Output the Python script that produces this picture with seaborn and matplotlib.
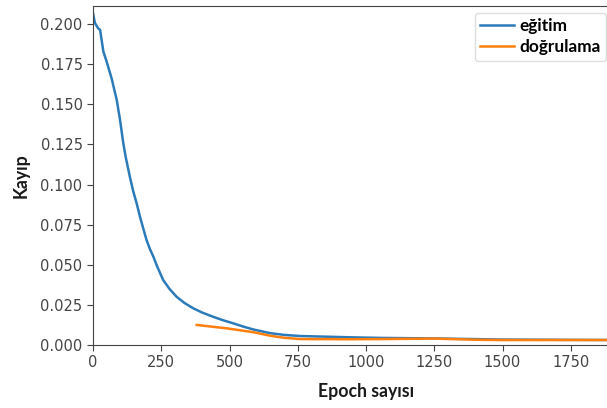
## Training / validation loss curve

import numpy as np
import pandas as pd
import matplotlib
matplotlib.use("Agg")
import matplotlib.pyplot as plt
import seaborn as sns

# values
train_epochs = [0, 7, 19, 26, 38, 50, 68, 87, 99, 111, 120, 135, 147, 160, 172, 184, 196,
                208, 221, 235, 257, 280, 306, 335, 367, 400, 440, 475, 514, 550, 587,
                648, 700, 758, 941, 1061, 1250, 1500, 1750, 1950]
train_loss = [0.2068, 0.2007, 0.1974, 0.1964, 0.1829, 0.1766, 0.1663, 0.1527, 0.1403,
              0.1257, 0.1170, 0.1049, 0.0960, 0.0883, 0.0800, 0.0727, 0.0655, 0.0600,
              0.0551, 0.0490, 0.0405, 0.0350, 0.0301, 0.0262, 0.0229, 0.0202, 0.0176,
              0.0155, 0.0135, 0.0115, 0.0097, 0.0074, 0.0063, 0.0056, 0.0048, 0.0044,
              0.0041, 0.0034, 0.0032, 0.0031]

val_epochs = [380, 489, 587, 648, 700, 758, 941, 1061, 1250, 1400, 1500, 1750, 1950]
val_loss = [0.0125, 0.0104, 0.0080, 0.0058, 0.0045, 0.0037, 0.0036, 0.0037, 0.0040,
            0.0033, 0.0031, 0.0031, 0.0031]

x_ticks = [0, 250, 500, 750, 1000, 1250, 1500, 1750]
y_ticks = [0.000, 0.025, 0.050, 0.075, 0.100, 0.125, 0.150, 0.175, 0.200]

train = pd.DataFrame({"epoch": train_epochs, "loss": train_loss})
val = pd.DataFrame({"epoch": val_epochs, "loss": val_loss})

fig = plt.figure(figsize=(6.07, 4.08), dpi=100)
# axes run past the right edge, like the cropped screenshot
ax = fig.add_axes([93 / 607, 63 / 408, 546 / 607, 339 / 408])

sns.lineplot(data=train, x="epoch", y="loss", ax=ax, color="#2b7bba", lw=1.8, label="eğitim")
sns.lineplot(data=val, x="epoch", y="loss", ax=ax, color="#ff7f0e", lw=1.8, label="doğrulama")

ax.set_xlim(0, 2000)
ax.set_ylim(0, 0.2113)
ax.set_xticks(x_ticks)
ax.set_yticks(y_ticks)
ax.set_yticklabels([f"{v:.3f}" for v in y_ticks])
ax.tick_params(labelsize=10.5, colors="#444444", labelcolor="#444444", length=4)
for s in ax.spines.values():
    s.set_color("#444444")

lab_font = dict(family="Lato", weight="bold", size=12.7, color="#1a1a1a")
ax.set_xlabel("Epoch sayısı", labelpad=9, **lab_font)
ax.set_ylabel("Kayıp", labelpad=8, **lab_font)

ax.get_legend().remove()
h, l = ax.get_legend_handles_labels()
fig.legend(h, l, loc="upper right", bbox_to_anchor=(606 / 607, 395 / 408),
           borderaxespad=0, prop=dict(family="Lato", weight="bold", size=12.4),
           handlelength=2.0, handletextpad=0.3, labelspacing=0.3, borderpad=0.3,
           framealpha=1, edgecolor="#dddddd")

fig.savefig("out.png", dpi=100)
